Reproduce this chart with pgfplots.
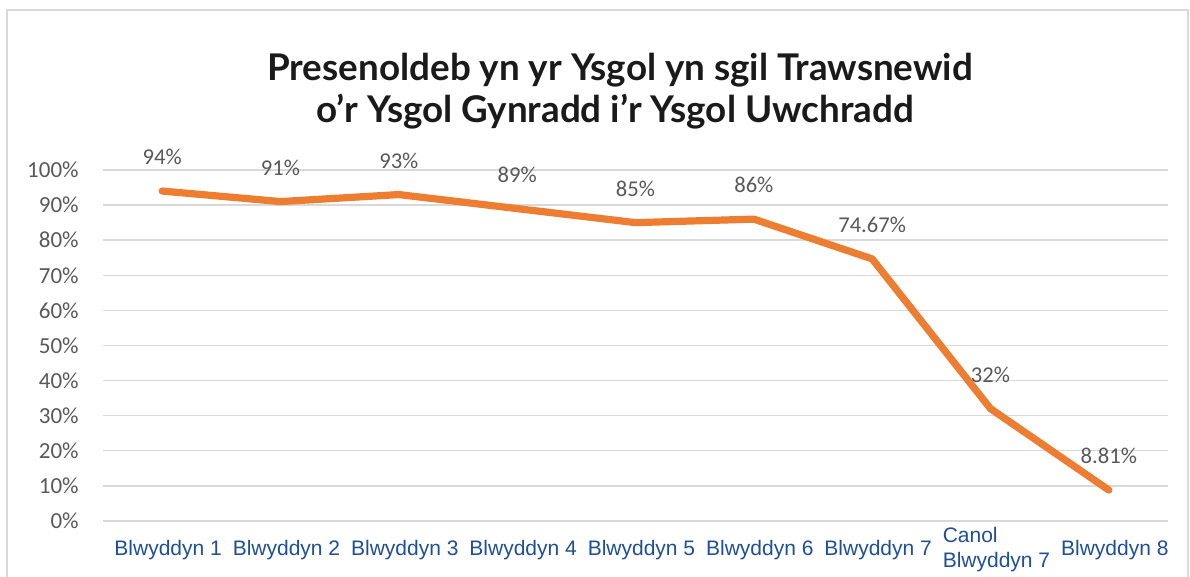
\documentclass[border=0pt]{standalone}
\usepackage{pgfplots}
\pgfplotsset{compat=1.18}
\usepackage{fontspec}
\setmainfont{Liberation Sans}
\newfontfamily\carlito{Carlito}
\newfontfamily\titlefont{Lato}
\definecolor{lineorange}{HTML}{ED7D31}
\definecolor{gridgray}{HTML}{D9D9D9}
\definecolor{labgray}{HTML}{595959}
\definecolor{xblue}{HTML}{1F4E9A}
\definecolor{titlecol}{HTML}{1A1A1A}
\begin{document}
\begin{tikzpicture}
\useasboundingbox[fill=white] (-51.5pt,-28pt) rectangle (543.5pt,260.5pt);
\draw[gridgray, line width=0.8pt] (-48pt,-30pt) -- (-48pt,255.5pt) -- (542.5pt,255.5pt) -- (542.5pt,-30pt);
\node[font=\titlefont\bfseries\fontsize{18.4}{22}\selectfont, text=titlecol] at (258.5pt,225.5pt) {Presenoldeb yn yr Ysgol yn sgil Trawsnewid};
\node[font=\titlefont\bfseries\fontsize{18.4}{22}\selectfont, text=titlecol] at (256pt,204.5pt) {o’r Ysgol Gynradd i’r Ysgol Uwchradd};
\begin{axis}[
  at={(0pt,0pt)}, anchor=south west,
  width=532.5pt, height=175.5pt, scale only axis,
  xmin=-0.5, xmax=8.5, ymin=0, ymax=100,
  ytick={0,10,...,100},
  yticklabel={\pgfmathprintnumber{\tick}\%},
  /pgf/number format/assume math mode=true,
  xtick={0,...,8},
  xticklabels={Blwyddyn 1,Blwyddyn 2,Blwyddyn 3,Blwyddyn 4,Blwyddyn 5,Blwyddyn 6,Blwyddyn 7,{Canol\\Blwyddyn 7},Blwyddyn 8},
  xticklabel style={font=\fontsize{10.5}{12.5}\selectfont, text=xblue, align=left, anchor=center, yshift=-14.5pt, xshift=3pt, inner sep=0pt},
  yticklabel style={font=\carlito\fontsize{11.5}{13}\selectfont, text=labgray, anchor=east, inner sep=0pt, xshift=-12pt},
  ymajorgrids, grid style={gridgray, line width=0.7pt},
  axis line style={draw=none},
  major tick length=0pt,
  clip=false,
  nodes near coords={\pgfmathprintnumber{\pgfplotspointmeta}\%},
  every node near coord/.append style={font=\carlito\fontsize{11.3}{13}\selectfont, text=labgray, anchor=center, yshift=17pt},
]
\addplot[lineorange, line width=3.6pt, line join=round, line cap=round, mark=none] coordinates {
(0,94) (1,91) (2,93) (3,89) (4,85) (5,86) (6,74.67) (7,32) (8,8.81)
};
\end{axis}
\end{tikzpicture}
\end{document}
